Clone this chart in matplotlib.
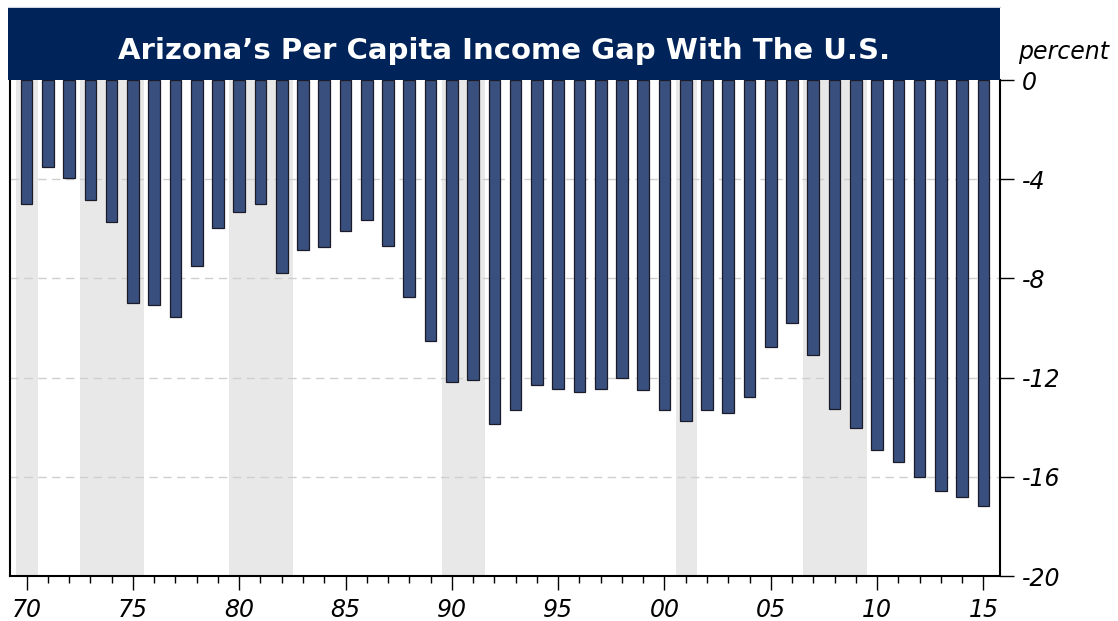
import matplotlib
matplotlib.use("Agg")
import matplotlib.pyplot as plt
from matplotlib.patches import Rectangle
from matplotlib.ticker import MultipleLocator, FixedLocator

# ---- data ----
years = list(range(1970, 2016))
gap = [-5.0, -3.49, -3.94, -4.83, -5.71, -9.0, -9.07, -9.55, -7.52, -5.98,
       -5.32, -4.99, -7.79, -6.87, -6.75, -6.1, -5.64, -6.68, -8.74, -10.53,
       -12.19, -12.1, -13.86, -13.29, -12.28, -12.46, -12.6, -12.45, -12.03, -12.5,
       -13.3, -13.74, -13.3, -13.44, -12.8, -10.75, -9.78, -11.07, -13.27, -14.04,
       -14.92, -15.42, -16.02, -16.56, -16.8, -17.18]
rec_start = [1970, 1973, 1980, 1990, 2001, 2007]
rec_end = [1970, 1975, 1982, 1991, 2001, 2009]
y_ticks = [0, -4, -8, -12, -16, -20]
x_tick_years = [1970, 1975, 1980, 1985, 1990, 1995, 2000, 2005, 2010, 2015]
x_tick_labels = ["70", "75", "80", "85", "90", "95", "00", "05", "10", "15"]
title = "Arizona\u2019s Per Capita Income Gap With The U.S."

W, H = 1118, 621
fig = plt.figure(figsize=(W / 100, H / 100), dpi=100)
ax = fig.add_axes([10 / W, 1 - 576 / H, 990 / W, 496 / H])

for s, e in zip(rec_start, rec_end):
    ax.axvspan(s - 0.48, e + 0.54, color="#e8e8e8", lw=0, zorder=0)

for yv in y_ticks[1:-1]:
    ax.axhline(yv, color="#cfcfcf", lw=1, ls=(0, (6, 4)), zorder=1)

ax.bar(years, gap, width=0.55, color="#39507f", edgecolor="#1a1a28",
       linewidth=0.9, zorder=3)

ax.set_xlim(1969.22, 2015.78)
ax.set_ylim(-20, 0)

ax.yaxis.tick_right()
ax.yaxis.set_label_position("right")
ax.set_yticks(y_ticks)
ax.set_yticklabels([str(v) for v in y_ticks], fontsize=17, style="italic")
ax.tick_params(axis="y", direction="out", length=10, width=1, pad=6)

ax.xaxis.set_major_locator(FixedLocator(x_tick_years))
ax.set_xticklabels(x_tick_labels, fontsize=17, style="italic")
ax.xaxis.set_minor_locator(MultipleLocator(1))
ax.tick_params(axis="x", which="major", direction="out", length=10, width=1, pad=6)
ax.tick_params(axis="x", which="minor", direction="out", length=5, width=1)

for sp in ["left", "right", "bottom"]:
    ax.spines[sp].set_color("black")
    ax.spines[sp].set_linewidth(1.5)
ax.spines["top"].set_visible(False)

# title banner
fig.patches.append(Rectangle((8 / W, 1 - 80 / H), 992 / W, 72 / H,
                             transform=fig.transFigure, facecolor="#002359",
                             edgecolor="none", zorder=5))
fig.add_artist(plt.Line2D([8 / W, 1000 / W], [1 - 7 / H, 1 - 7 / H],
                          transform=fig.transFigure, color="#d0d8e4", lw=1))
fig.text(504 / W, 1 - 51 / H, title, color="white", fontsize=21,
         fontweight="bold", ha="center", va="center", zorder=6)
fig.text(1018 / W, 1 - 52 / H, "percent", fontsize=17, style="italic",
         ha="left", va="center")

fig.savefig("out.png", dpi=100)
